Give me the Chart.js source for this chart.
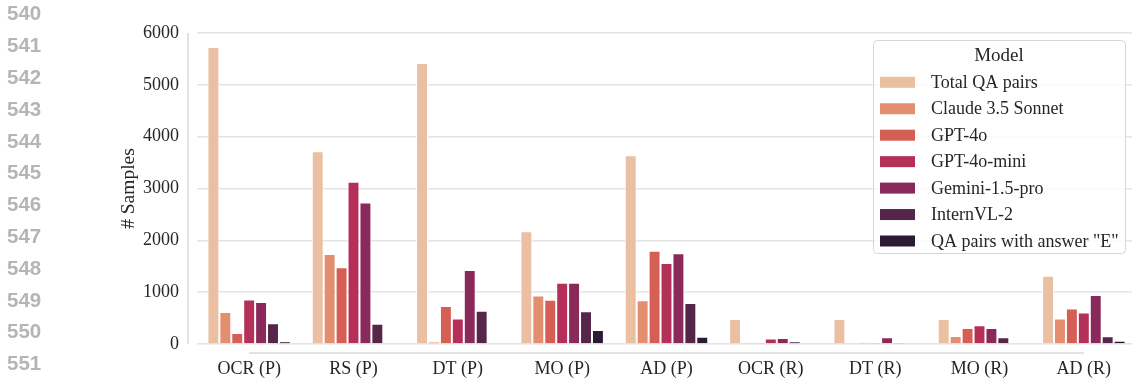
<!DOCTYPE html>
<html>
<head>
<meta charset="utf-8">
<script src="https://cdn.jsdelivr.net/npm/chart.js@4.4.1/dist/chart.umd.min.js"></script>
<style>
  html, body { margin: 0; padding: 0; background: #fff; }
  #page { position: relative; width: 1132px; height: 381px; overflow: hidden; }
  #chartBox { position: absolute; left: 0; top: 0; width: 1136px; height: 381px; }
  .ln { position: absolute; left: 7px; font: bold 20.5px "Liberation Sans", Arial, sans-serif;
        color: #b5b5b5; line-height: 22px; }
</style>
</head>
<body>
<div id="page">
  <div id="chartBox"><canvas id="chart" width="1136" height="381"></canvas></div>
</div>
<script>
// Sample counts per task split and model
const categories = ['OCR (P)', 'RS (P)', 'DT (P)', 'MO (P)', 'AD (P)', 'OCR (R)', 'DT (R)', 'MO (R)', 'AD (R)'];
const totalQA   = [5730, 3720, 5420, 2175, 3640, 480, 480, 480, 1315];
const claude35  = [615, 1735, 45, 935, 845, 25, 0, 155, 490];
const gpt4o     = [210, 1480, 735, 855, 1800, 25, 5, 310, 685];
const gpt4oMini = [860, 3130, 490, 1180, 1565, 105, 20, 360, 610];
const gemini15  = [810, 2730, 1430, 1180, 1750, 115, 130, 310, 945];
const internVL2 = [400, 390, 640, 630, 790, 55, 8, 130, 150];
const answerE   = [50, 0, 0, 270, 140, 0, 0, 0, 65];
const seriesLabels = ['Total QA pairs', 'Claude 3.5 Sonnet', 'GPT-4o', 'GPT-4o-mini', 'Gemini-1.5-pro', 'InternVL-2', 'QA pairs with answer "E"'];
const seriesColors = ['#ebbfa1', '#e38e6f', '#d65f55', '#b53058', '#8a2a5b', '#56254a', '#2c1a35'];
const yTicks = [0, 1000, 2000, 3000, 4000, 5000, 6000];
const lineNumbers = [540, 541, 542, 543, 544, 545, 546, 547, 548, 549, 550, 551];

// margin line numbers
const page = document.getElementById('page');
lineNumbers.forEach((n, i) => {
  const d = document.createElement('div');
  d.className = 'ln';
  d.textContent = String(n);
  d.style.top = (2.3 + i * 31.8) + 'px';
  page.appendChild(d);
});

const serif = '"Liberation Serif", "Times New Roman", serif';
const values = [totalQA, claude35, gpt4o, gpt4oMini, gemini15, internVL2, answerE];

// trimmed, offset spines
const spines = {
  id: 'spines',
  afterDraw(chart) {
    const { ctx, scales: { x, y } } = chart;
    ctx.save();
    ctx.strokeStyle = '#d9d9d9';
    ctx.lineWidth = 1.5;
    ctx.beginPath();
    const sx = chart.chartArea.left - 9;
    ctx.moveTo(sx, y.getPixelForValue(yTicks[yTicks.length - 1]));
    ctx.lineTo(sx, y.getPixelForValue(yTicks[0]));
    const sy = chart.chartArea.bottom + 9;
    ctx.moveTo(x.getPixelForValue(0), sy);
    ctx.lineTo(x.getPixelForValue(categories.length - 1), sy);
    ctx.stroke();
    ctx.restore();
  }
};

// legend box with title
const boxLegend = {
  id: 'boxLegend',
  afterDraw(chart) {
    const ctx = chart.ctx;
    const left = 873, top = 40, right = 1125, bottom = 253, r = 4;
    ctx.save();
    ctx.beginPath();
    ctx.roundRect(left + 0.5, top + 0.5, right - left, bottom - top, r);
    ctx.fillStyle = 'rgba(255,255,255,0.8)';
    ctx.fill();
    ctx.strokeStyle = '#d6d6d6';
    ctx.lineWidth = 1;
    ctx.stroke();
    ctx.fillStyle = '#262626';
    ctx.textBaseline = 'middle';
    ctx.textAlign = 'center';
    ctx.font = '19px ' + serif;
    ctx.fillText('Model', (left + right) / 2, 56);
    ctx.textAlign = 'left';
    ctx.font = '18px ' + serif;
    chart.data.datasets.forEach((ds, i) => {
      const cy = 82.3 + i * 26.45;
      ctx.fillStyle = ds.backgroundColor;
      ctx.fillRect(880, cy - 5.5, 35, 11);
      ctx.fillStyle = '#262626';
      ctx.fillText(ds.label, 931, cy + 1);
    });
    ctx.restore();
  }
};

new Chart(document.getElementById('chart'), {
  type: 'bar',
  data: {
    labels: categories,
    datasets: seriesLabels.map((label, i) => ({
      label,
      data: values[i],
      backgroundColor: seriesColors[i],
      borderColor: '#ffffff',
      borderWidth: 1,
      borderSkipped: 'bottom',
      categoryPercentage: 0.8,
      barPercentage: 1.0
    }))
  },
  options: {
    responsive: false,
    animation: false,
    devicePixelRatio: 1,
    layout: { padding: { top: 33, right: 0, bottom: 0, left: 0 } },
    plugins: { legend: { display: false }, tooltip: { enabled: false } },
    scales: {
      x: {
        grid: { display: false },
        border: { display: false },
        ticks: { color: '#262626', padding: 6, font: { family: serif, size: 18 } },
        afterFit(scale) { scale.height = 37; }
      },
      y: {
        min: 0,
        max: 6000,
        afterBuildTicks(scale) { scale.ticks = yTicks.map(v => ({ value: v })); },
        grid: { color: '#e4e4e4', lineWidth: 1.5, drawTicks: false },
        border: { display: false },
        ticks: { color: '#262626', padding: 18, font: { family: serif, size: 18 },
                 callback: v => String(v) },
        title: { display: true, text: '# Samples', color: '#262626', padding: { top: 117, bottom: 0 },
                 font: { family: serif, size: 19.5 } },
        afterFit(scale) { scale.width = 197; }
      }
    }
  },
  plugins: [spines, boxLegend]
});
</script>
</body>
</html>
